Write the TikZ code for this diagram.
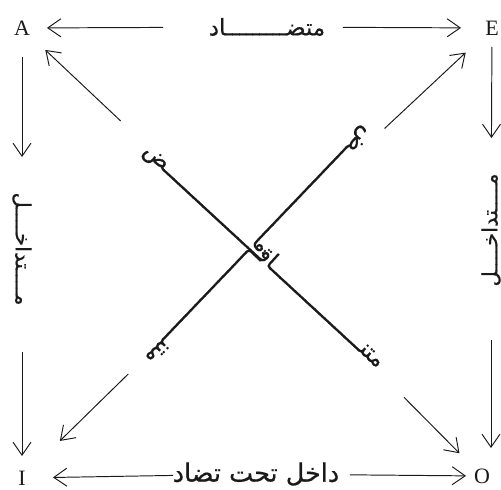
\documentclass[tikz,border=0pt]{standalone}
\usepackage{fontspec}
\setmainfont{Liberation Serif}
\newfontfamily\arabicfont[Script=Arabic,FakeBold=.5]{DejaVu Sans}
\TeXXeTstate=1
\usetikzlibrary{arrows.meta}
\ExplSyntaxOn
\cs_new:Npn \tatw #1 { \prg_replicate:nn {#1} {ـ} }
\ExplSyntaxOff
\newcommand{\artxt}[1]{\arabicfont\beginR #1\endR}
\definecolor{ink}{HTML}{1A1A1A}
\tikzset{
  every node/.style={inner sep=0pt,text=ink},
  corner/.style={font=\fontsize{12.5}{14}\selectfont},
  rel/.style={font=\fontsize{#1}{#1}\selectfont\arabicfont},
  rel/.default=13,
  arr/.style={-{Straight Barb[length=2.6mm,width=3.6mm]},line width=.55pt,draw=ink},
}

\begin{document}
\begin{tikzpicture}[x=.02cm,y=-.02cm]
\useasboundingbox (0,0) rectangle (501,490);
% corners of the square
\node[corner] (A) at (22,28) {A};
\node[corner] (E) at (492,28) {E};
\node[corner] (I) at (22,478) {I};
\node[corner] (O) at (482,476) {O};
% names of the relations
\node[rel] (opp) at (267,27) {\artxt{متض\tatw{9}اد}};
\node[rel=14.5] (subopp) at (256,474) {\artxt{داخل تحت تضاد}};
\node[rel=12,rotate=-90] (subl) at (22,249) {\artxt{م\tatw{4}تداخ\tatw{4}ل}};
\node[rel=12,rotate=90] (subr) at (491,230) {\artxt{م\tatw{4}تداخ\tatw{4}ل}};
\node[rel,rotate=-42.7] (contra1) at (264,256) {\artxt{متن\tatw{18}اق\tatw{19}ض}};
\node[rel,rotate=226.3] (contra2) at (259,246) {\artxt{متن\tatw{18}اق\tatw{19}ض}};
% top and bottom
\draw[arr,shorten <=2.08cm,shorten >=.50cm] (opp.center) -- (A.center);
\draw[arr,shorten <=1.52cm,shorten >=.62cm] (opp.center) -- (E.center);
\draw[arr,shorten <=1.66cm,shorten >=.62cm] (subopp.center) -- (I.center);
\draw[arr,shorten <=1.88cm,shorten >=.32cm] (subopp.center) -- (O.center);
% sides
\draw[arr,shorten <=.58cm,shorten >=1.84cm] (A.center) -- (subl.center);
\draw[arr,shorten <=2.06cm,shorten >=.44cm] (subl.center) -- (I.center);
\draw[arr,shorten <=.38cm,shorten >=1.84cm] (E.center) -- (subr.center);
\draw[arr,shorten <=2.20cm,shorten >=.56cm] (subr.center) -- (subr.center |- O.center);
% diagonals
\draw[arr,shorten <=3.94cm,shorten >=.64cm] (contra1.center) -- (A.center);
\draw[arr,shorten <=3.98cm,shorten >=.64cm] (contra1.center) -- (O.center);
\draw[arr,shorten <=3.44cm,shorten >=.72cm] (contra2.center) -- (E.center);
\draw[arr,shorten <=3.66cm,shorten >=1.06cm] (contra2.center) -- (I.center);
\end{tikzpicture}
\end{document}
